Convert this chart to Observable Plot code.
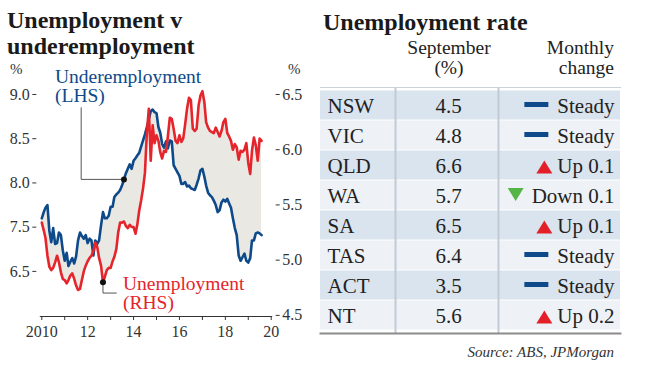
<!DOCTYPE html>
<html><head><meta charset="utf-8">
<script src="https://cdn.jsdelivr.net/npm/d3@7"></script>
<script src="https://cdn.jsdelivr.net/npm/@observablehq/plot@0.6"></script>
<style>
body{margin:0;background:#fff;font-family:"Liberation Serif",serif;color:#222;}
#wrap{position:relative;width:650px;height:366px;overflow:hidden;background:#fff;}
.abs{position:absolute;white-space:nowrap;z-index:2;}
.title{font-weight:bold;font-size:24px;line-height:26px;color:#1a1a1a;}
.head{font-size:19.5px;line-height:20px;color:#222;}
.pct{font-size:15px;line-height:15px;color:#333;}
.lab{font-size:19.5px;line-height:19px;}
#chart,#table{position:absolute;z-index:1;}
#chart{left:0;top:60px;}
#table{left:310px;top:87px;}
</style></head><body>
<div id="wrap">
  <div class="abs title" style="left:7px;top:7px;">Unemployment v<br>underemployment</div>
  <div class="abs title" style="left:323px;top:9px;">Unemployment rate</div>
  <div class="abs pct" style="left:10px;top:62px;">%</div>
  <div class="abs pct" style="left:288px;top:62px;">%</div>
  <div class="abs lab" style="left:55px;top:67px;color:#0e4a8a;">Underemployment<br>(LHS)</div>
  <div class="abs lab" style="left:123px;top:274px;color:#e5242b;">Unemployment<br>(RHS)</div>
  <div class="abs head" style="left:399px;width:100px;text-align:center;top:38px;">September<br>(%)</div>
  <div class="abs head" style="right:36px;text-align:right;top:38px;">Monthly<br>change</div>
  <div class="abs" style="right:36px;top:345px;font-size:15px;line-height:15px;font-style:italic;color:#333;">Source: ABS, JPMorgan</div>
  <div id="chart"></div>
  <div id="table"></div>
</div>
<script>
// ---------- data ----------
const underemployment = [
  7.60,7.67,7.72,7.75,7.46,7.33,7.49,7.31,7.32,7.44,
  7.41,7.24,7.12,7.21,7.06,7.11,7.15,7.09,7.17,7.35,
  7.44,7.40,7.37,7.41,7.32,7.37,7.35,7.18,7.35,7.31,
  7.35,7.52,7.67,7.60,7.60,7.63,7.73,7.73,7.84,7.87,
  7.89,7.92,7.97,8.04,8.11,8.16,8.21,8.16,8.25,8.28,
  8.31,8.34,8.41,8.48,8.55,8.63,8.72,8.81,8.83,8.80,
  8.79,8.63,8.57,8.44,8.40,8.47,8.39,8.48,8.47,
  8.20,8.16,8.12,8.08,7.99,7.99,8.01,7.96,7.97,7.94,
  7.93,7.92,7.98,8.05,8.14,8.16,8.07,7.97,7.89,7.86,
  7.84,7.80,7.75,7.67,7.69,7.78,7.81,7.79,7.82,7.77,
  7.72,7.60,7.49,7.41,7.18,7.12,7.16,7.20,7.12,7.10,
  7.15,7.35,7.35,7.43,7.44,7.43,7.41
];
const unemployment = [
  5.34,5.27,5.20,5.04,4.94,4.91,4.93,4.98,5.04,4.98,
  4.89,4.83,4.82,4.79,4.82,4.86,4.88,4.83,4.77,4.73,
  4.74,4.82,4.90,4.95,4.99,5.02,5.04,5.08,5.16,5.12,
  5.02,4.95,4.80,4.85,4.91,4.93,4.93,4.99,5.03,5.10,
  5.25,5.34,5.34,5.35,5.31,5.29,5.32,5.30,5.30,5.24,
  5.32,5.45,5.54,5.65,5.79,6.16,6.37,5.90,6.22,6.06,
  6.13,6.08,5.98,5.92,5.99,5.98,6.12,6.29,6.28,
  6.19,6.08,6.06,6.13,6.07,6.10,6.23,6.37,6.47,6.45,
  6.19,6.17,6.19,6.40,6.49,6.53,6.43,6.25,6.20,6.17,
  6.16,6.15,6.20,6.16,6.12,6.17,6.25,6.28,6.15,6.12,
  6.08,6.00,6.05,6.02,5.91,5.99,5.98,6.00,6.06,5.88,
  5.78,5.99,6.11,6.04,5.90,6.10,6.08
];
const xTickYears = [2010,2011,2012,2013,2014,2015,2016,2017,2018,2019,2020];
const leftTicks = [7.0,7.5,8.0,8.5,9.0];
const leftTickLabels = ["6.5","7.5","8.0","8.5","9.0"];
const rightTicks = [4.5,5.0,5.5,6.0,6.5];

const states = ["NSW","VIC","QLD","WA","SA","TAS","ACT","NT"];
const septRate = [4.5,4.8,6.6,5.7,6.5,6.4,3.5,5.6];
const changeDir = ["steady","steady","up","down","up","steady","steady","up"];
const changeLabel = ["Steady","Steady","Up 0.1","Down 0.1","Up 0.1","Steady","Steady","Up 0.2"];

// ---------- left chart ----------
const K = 110.5 / 88.5;                 // RHS units -> LHS units
const toLeft = r => 9.0 - (6.5 - r) * K;
const fromLeft = l => 6.5 - (9.0 - l) / K;
const series = underemployment.map((u, i) => ({
  date: new Date(Date.UTC(2010, i, 1)), under: u, unemp: toLeft(unemployment[i])
}));
const blueDot = series[43], redDot = series[32];
const blueCallout = [
  {date: new Date(Date.UTC(2011, 8, 20)), v: 8.85},
  {date: new Date(Date.UTC(2011, 8, 20)), v: blueDot.under},
  {date: blueDot.date, v: blueDot.under}
];
const redCallout = [
  {date: redDot.date, v: redDot.unemp},
  {date: redDot.date, v: 6.755},
  {date: new Date(Date.UTC(2013, 3, 1)), v: 6.755}
];
const axisStyle = {color: "#333", fontSize: 16};

const chart = Plot.plot({
  width: 310, height: 300,
  marginLeft: 41.3, marginRight: 39.3, marginTop: 16.3, marginBottom: 44,
  x: {type: "utc", domain: [new Date(Date.UTC(2010,0,1)), new Date(Date.UTC(2020,0,1))]},
  y: {domain: [6.49, 9.2]},
  style: {fontFamily: "Liberation Serif", fontSize: "16px", background: "transparent", overflow: "visible"},
  marks: [
    Plot.areaY(series, {x: "date", y1: "under", y2: "unemp", fill: "#e9e8e3"}),
    Plot.ruleY([6.49], {stroke: "#333", strokeWidth: 1, insetLeft: -1.5, insetRight: -1.5}),
    Plot.axisX({
      ticks: xTickYears.map(y => new Date(Date.UTC(y,0,1))),
      tickFormat: d => { const y = d.getUTCFullYear(); return y % 2 ? "" : (y === 2010 ? "2010" : String(y).slice(2)); },
      tickSize: 4, tickPadding: 5, label: null, ...axisStyle
    }),
    Plot.axisY({anchor: "left", ticks: leftTicks, tickFormat: d => leftTickLabels[leftTicks.indexOf(d)],
      tickSize: 4, tickPadding: 3, dx: -5, label: null, ...axisStyle}),
    Plot.axisY({anchor: "right", ticks: rightTicks.map(toLeft), tickFormat: d => fromLeft(d).toFixed(1),
      tickSize: 4, tickPadding: 3, dx: 4, label: null, ...axisStyle}),
    Plot.line(blueCallout, {x: "date", y: "v", stroke: "#555", strokeWidth: 1}),
    Plot.line(redCallout, {x: "date", y: "v", stroke: "#555", strokeWidth: 1}),
    Plot.line(series, {x: "date", y: "under", stroke: "#0e4a8a", strokeWidth: 2.6}),
    Plot.line(series, {x: "date", y: "unemp", stroke: "#e5242b", strokeWidth: 2.6}),
    Plot.dot([blueDot], {x: "date", y: "under", r: 3, fill: "#111"}),
    Plot.dot([redDot], {x: "date", y: "unemp", r: 3, fill: "#111"})
  ]
});
document.getElementById("chart").append(chart);

// ---------- table ----------
const rows = states.map((s, i) => ({state: s, rate: septRate[i], dir: changeDir[i], label: changeLabel[i], i}));
const canvas = document.createElement("canvas");
const ctx = canvas.getContext("2d");
ctx.font = "21px 'Liberation Serif'";
const textW = s => ctx.measureText(s).width;

const upTri = {draw(c){ c.moveTo(0,-6.5); c.lineTo(8,6.5); c.lineTo(-8,6.5); c.closePath(); }};
const downTri = {draw(c){ c.moveTo(-8,-6.5); c.lineTo(8,-6.5); c.lineTo(0,6.5); c.closePath(); }};
const barSym = {draw(c){ c.rect(-12,-2.5,24,5); }};
const iconSpec = {
  up: {sym: upTri, fill: "#e3202a", half: 8, gap: 5, dy: 1.5},
  down: {sym: downTri, fill: "#55b547", half: 8, gap: 8, dy: -1},
  steady: {sym: barSym, fill: "#0e4a8a", half: 12, gap: 9, dy: -1}
};
const iconMarks = rows.map(r => {
  const s = iconSpec[r.dir];
  return Plot.dot([r], {x: () => 1, y: "state", symbol: s.sym, r: 8, fill: s.fill, stroke: "none",
    dx: -(6 + textW(r.label) + s.gap + s.half), dy: s.dy});
});

const table = Plot.plot({
  width: 340, height: 248,
  marginLeft: 10, marginRight: 30, marginTop: 0, marginBottom: 2,
  x: {domain: [0, 1], axis: null},
  y: {type: "band", domain: states, padding: 0, axis: null},
  style: {fontFamily: "Liberation Serif", background: "transparent", overflow: "visible"},
  marks: [
    Plot.barX(rows.filter(r => r.i % 2 === 0), {x1: 0, x2: 1, y: "state", fill: "#dae4ee", insetTop: 0.5, insetBottom: 0.5}),
    Plot.barX(rows.filter(r => r.i % 2 === 1), {x1: 0, x2: 1, y: "state", fill: "#eef2f6", insetTop: 0.5, insetBottom: 0.5}),
    Plot.ruleX([0.25, 0.5933], {stroke: "#c2cbd4", strokeWidth: 2}),
    Plot.frame({anchor: "top", stroke: "#c9d2db"}),
    Plot.frame({anchor: "bottom", stroke: "#8c8c8c", strokeWidth: 2}),
    Plot.text(rows, {x: () => 0, y: "state", text: "state", textAnchor: "start", dx: 7, dy: 1, fontSize: 21, fill: "#222"}),
    Plot.text(rows, {x: () => 0.4267, y: "state", text: d => d.rate.toFixed(1), dy: 1, fontSize: 21, fill: "#222"}),
    Plot.text(rows, {x: () => 1, y: "state", text: "label", textAnchor: "end", dx: -6, dy: 1, fontSize: 21, fill: "#222"}),
    ...iconMarks
  ]
});
document.getElementById("table").append(table);
</script>
</body></html>
